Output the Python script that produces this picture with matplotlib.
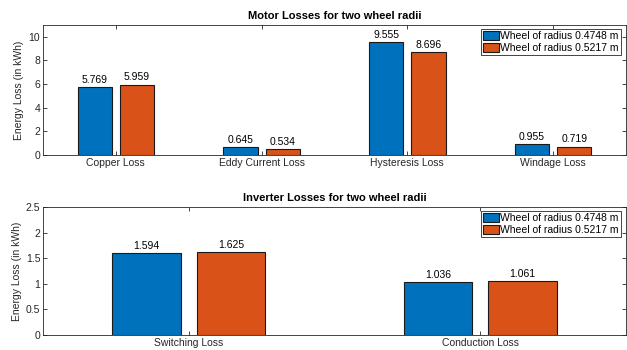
import matplotlib
matplotlib.use("Agg")
import matplotlib.pyplot as plt
import numpy as np

plt.rcParams['font.family'] = ['Liberation Sans', 'DejaVu Sans']

motor_categories = ["Copper Loss", "Eddy Current Loss", "Hysteresis Loss", "Windage Loss"]
motor_r1 = [5.769, 0.645, 9.555, 0.955]
motor_r2 = [5.959, 0.534, 8.696, 0.719]

inverter_categories = ["Switching Loss", "Conduction Loss"]
inverter_r1 = [1.594, 1.036]
inverter_r2 = [1.625, 1.061]

series_labels = ["Wheel of radius 0.4748 m", "Wheel of radius 0.5217 m"]
colors = ["#0072BD", "#D95319"]
axis_color = "#262626"

W, H = 627, 350
fig = plt.figure(figsize=(W / 100, H / 100), dpi=100)
AX_L, AX_R = 43, 626
ax1 = fig.add_axes([AX_L / W, 1 - 155 / H, (AX_R - AX_L) / W, 130 / H])
ax2 = fig.add_axes([AX_L / W, 1 - 335 / H, (AX_R - AX_L) / W, 128 / H])


def draw(ax, cats, v1, v2, ylim, yticks, title, axes_h):
    x = np.arange(1, len(cats) + 1)
    off, w = 0.145, 0.234
    b1 = ax.bar(x - off, v1, w, color=colors[0], edgecolor="#1a1a1a", linewidth=0.8,
                label=series_labels[0])
    b2 = ax.bar(x + off, v2, w, color=colors[1], edgecolor="#1a1a1a", linewidth=0.8,
                label=series_labels[1])
    for bars, vals in ((b1, v1), (b2, v2)):
        for rect, v in zip(bars, vals):
            ax.annotate(f"{v:.3f}", (rect.get_x() + rect.get_width() / 2, v),
                        xytext=(0, 1.5), textcoords="offset points",
                        ha="center", va="bottom", fontsize=7.5, color="black")
    ax.set_xlim(0.5, len(cats) + 0.5)
    ax.set_ylim(*ylim)
    ax.set_xticks(x)
    ax.set_xticklabels(cats)
    ax.set_yticks(yticks)
    ax.set_yticklabels([f"{t:g}" for t in yticks])
    ax.tick_params(direction="in", top=True, right=True, length=3, width=0.6,
                   labelsize=7.5, colors=axis_color, pad=2)
    for s in ax.spines.values():
        s.set_color(axis_color)
        s.set_linewidth(0.6)
    ax.set_ylabel("Energy Loss (in kWh)", fontsize=7.5, color=axis_color, labelpad=3)
    ax.set_title(title, fontsize=8, fontweight="bold", color="black", pad=4)
    anchor = (1 - 5 / (AX_R - AX_L), 1 - 4 / axes_h)
    leg = ax.legend(loc="upper right", bbox_to_anchor=anchor, fontsize=7.5,
                    frameon=True, fancybox=False, edgecolor=axis_color, framealpha=1,
                    handlelength=1.55, handleheight=0.95, handletextpad=0.15,
                    borderpad=0.2, labelspacing=0.2, borderaxespad=0.0)
    leg.get_frame().set_linewidth(0.6)
    for h in leg.legend_handles:
        h.set_edgecolor("#1a1a1a")


draw(ax1, motor_categories, motor_r1, motor_r2, (0, 11), [0, 2, 4, 6, 8, 10],
     "Motor Losses for two wheel radii", 130)
draw(ax2, inverter_categories, inverter_r1, inverter_r2, (0, 2.5),
     [0, 0.5, 1, 1.5, 2, 2.5], "Inverter Losses for two wheel radii", 128)

fig.savefig("out.png", dpi=100)
